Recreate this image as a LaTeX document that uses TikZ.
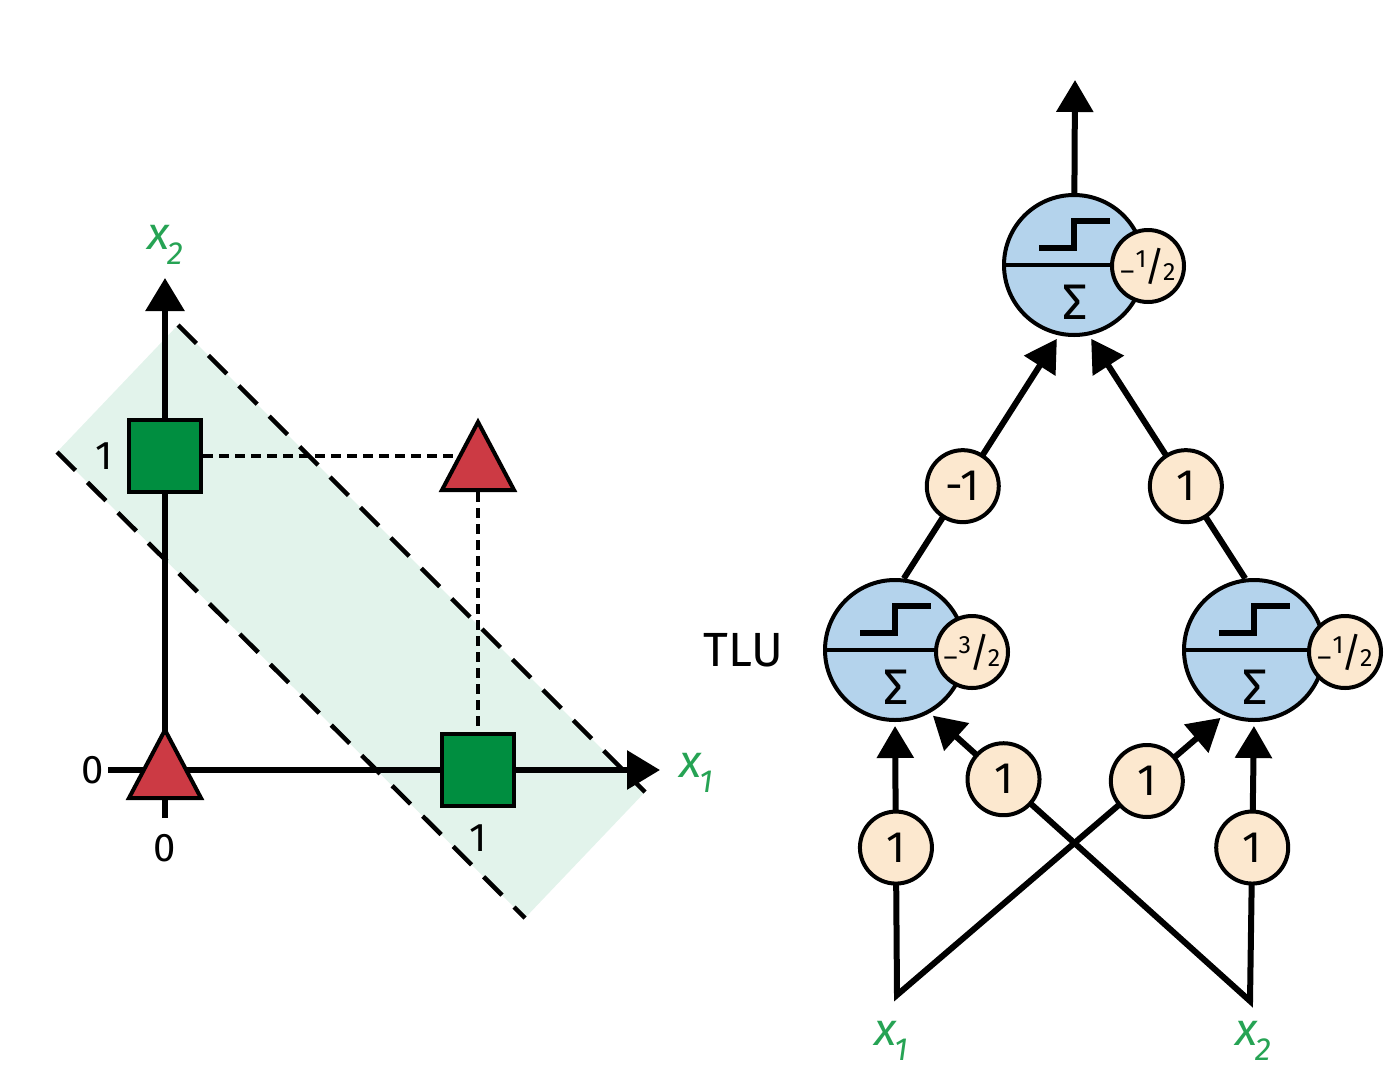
\documentclass[tikz,border=0pt]{standalone}
\usepackage{fontspec}
\setmainfont{Fira Sans}
\usetikzlibrary{shapes.geometric, arrows.meta, positioning, calc}
\definecolor{plotgreen}{RGB}{0,142,64}
\definecolor{plotred}{RGB}{204,58,68}
\definecolor{bandgreen}{RGB}{226,243,235}
\definecolor{labelgreen}{RGB}{38,163,84}
\definecolor{tlublue}{RGB}{180,211,236}
\definecolor{weightpeach}{RGB}{252,232,207}
\newcommand{\xin}[1]{{\color{labelgreen}\fontsize{46}{46}\selectfont\itshape x\kern-2pt\raisebox{-15pt}{\fontsize{32}{32}\selectfont #1}}}
\newcommand{\slfrac}[2]{\raisebox{13pt}{\fontsize{25}{25}\selectfont #1}\kern-2pt{\fontsize{40}{40}\selectfont /}\kern-2pt{\fontsize{25}{25}\selectfont #2}}
\newcommand{\negbias}[2]{{\fontsize{27}{27}\selectfont –}\kern1pt\slfrac{#1}{#2}}

\begin{document}
\begin{tikzpicture}
[
  x=1pt, y=-1pt,
  axis/.style={line width=6pt, -{Triangle[length=33pt, width=38pt]}},
  bandline/.style={line width=4.5pt, dash pattern=on 26pt off 17pt},
  guide/.style={line width=3.5pt, dash pattern=on 10pt off 6pt},
  sq/.style={draw, line width=4pt, fill=plotgreen, minimum size=72pt, inner sep=0pt},
  tri/.style={isosceles triangle, isosceles triangle stretches, shape border rotate=90, draw, line width=4pt, fill=plotred, minimum width=72pt, minimum height=68pt, inner sep=0pt},
  tick/.style={font=\fontsize{40}{40}\selectfont, inner sep=0pt},
  tlu/.style={circle, draw, line width=4pt, fill=tlublue, minimum size=140pt, inner sep=0pt,
    path picture={
      \draw[line width=4pt] (path picture bounding box.west) -- (path picture bounding box.east);
      \draw[line width=6.5pt] ($(path picture bounding box.center)+(-35,-17)$) -- ++(35,0) -- ++(0,-27) -- ++(36,0);
      \node[font=\fontsize{50}{50}\selectfont, inner sep=0pt] at ($(path picture bounding box.center)+(1,37)$) {Σ};
    }},
  weight/.style={circle, draw, line width=4pt, fill=weightpeach, minimum size=72pt, inner sep=0pt, font=\fontsize{44}{44}\selectfont},
  bias/.style={weight, font=\fontsize{27}{27}\selectfont},
  conn/.style={line width=6pt, -{Triangle[length=32pt, width=36pt]}, shorten >=4pt},
  pair/.style={line width=6pt, {Triangle[length=32pt, width=36pt]}-{Triangle[length=32pt, width=36pt]}, shorten >=4pt, shorten <=4pt}
]
\useasboundingbox (0,0) rectangle (1394,1087);

\fill[bandgreen] (57,452) -- (178,325) -- (645,792) -- (525,918) -- cycle;
\draw[axis] (108,770) -- (660,770);
\draw[axis] (165,818) -- (165,278);
\draw[bandline] (57,452) -- (525,918);
\draw[bandline] (178,325) -- (645,792);

\node[sq] (s01) at (165,456) {};
\node[sq] (s10) at (478,770) {};
\node[tri, anchor=lower side] (t00) at (165,800) {};
\node[tri, anchor=lower side] (t11) at (478,492) {};
\draw[guide] (s01.east) -- (s01.east -| t11.left side);
\draw[guide] (t11.lower side) -- (s10.north);

\node[tick] (l1y) at (104,456) {1};
\node[tick] (l0y) at (93,770) {0};
\node[tick] (l0x) at (165,848) {0};
\node[tick] (l1x) at (478,838) {1};
\node (lx2) at (165,245) {\xin{2}};
\node (lx1) at (696,773) {\xin{1}};

\node[tlu] (o) at (1074,265) {};
\node[bias] (bo) at ($(o)+(74,1)$) {\negbias{1}{2}};
\node[tlu] (h1) at (895,650) {};
\node[bias] (b1) at ($(h1)+(77,2)$) {\negbias{3}{2}};
\node[tlu] (h2) at (1254,650) {};
\node[bias] (b2) at ($(h2)+(91,2)$) {\negbias{1}{2}};
\node[font=\fontsize{48}{48}\selectfont, inner sep=0pt, left=40pt of h1] (tlu) {TLU};

\coordinate (y) at (1075,80);
\coordinate (x1) at (897,995);
\coordinate (x2) at (1250,1001);
\node (x1lbl) at (891,1041) {\xin{1}};
\node (x2lbl) at (1253,1041) {\xin{2}};

\draw[conn, shorten >=0pt] (o) -- (y);
\draw[conn] (h1.83) -- node[weight, pos=0.38] (w31) {-1} (o.258);
\draw[conn] (h2.97) -- node[weight, pos=0.38] (w32) {1} (o.282);
\draw[pair] (h2.245) -- node[weight, pos=0.235] (w12) {1} (x1) -- node[weight, pos=0.54] (w11) {1} (h1.270);
\draw[pair] (h1.-61) -- node[weight, pos=0.23] (w21) {1} (x2) -- node[weight, pos=0.55] (w22) {1} (h2.270);
\end{tikzpicture}
\end{document}
